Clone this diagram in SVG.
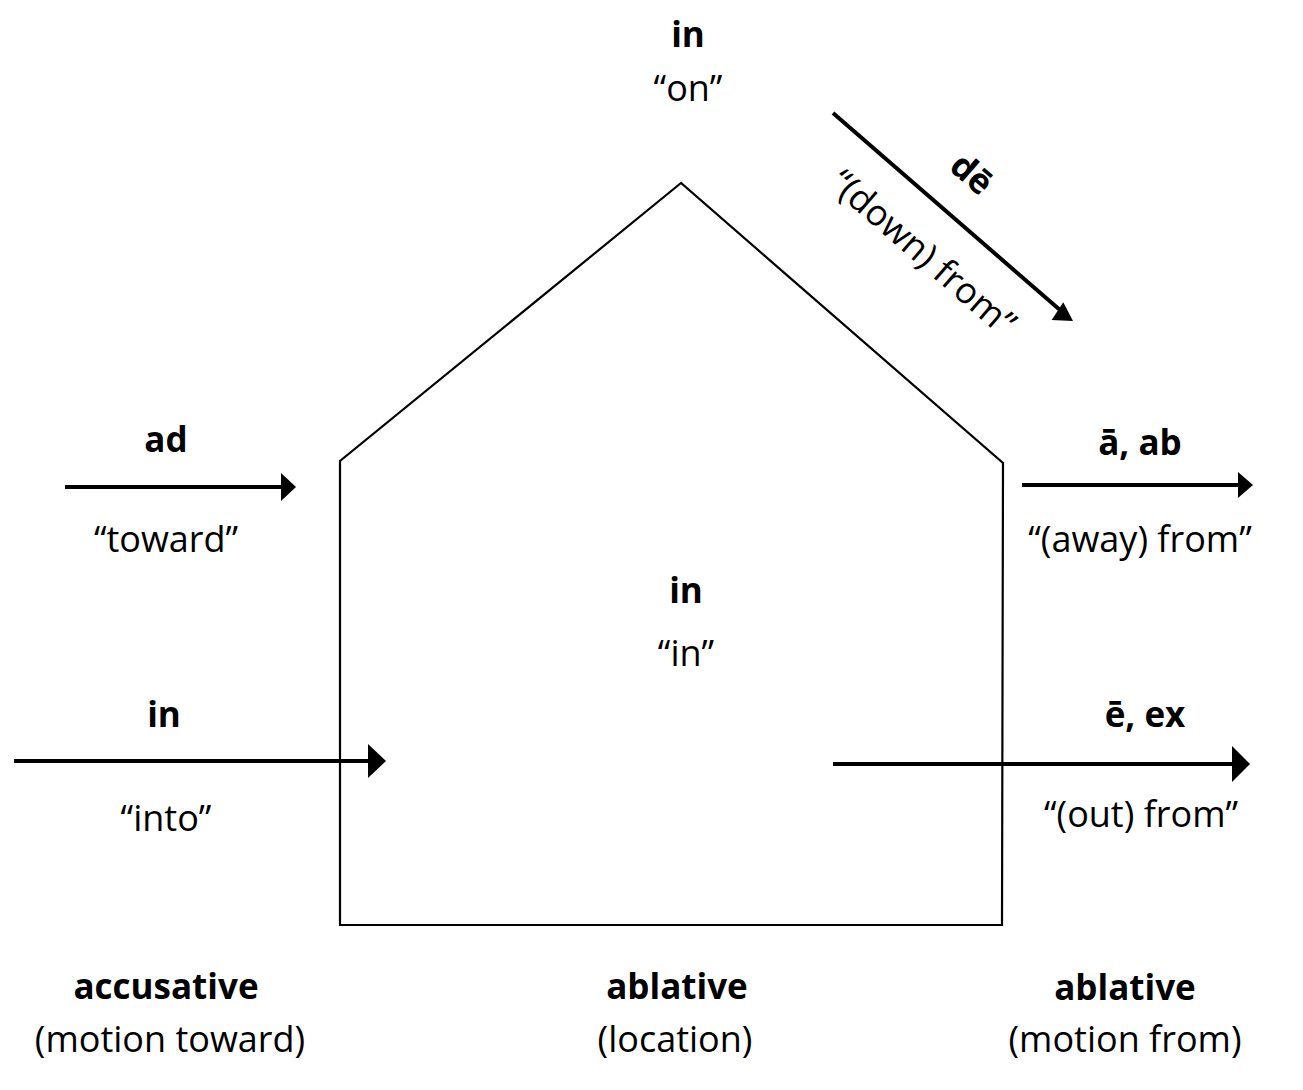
<svg xmlns="http://www.w3.org/2000/svg" width="1303" height="1090" viewBox="0 0 1303 1090">
<style>
text{font-family:"Open Sans","Noto Sans","DejaVu Sans",sans-serif;font-size:36px;fill:#000;text-anchor:middle}
.b{font-weight:700;font-size:35px}
.ln{stroke:#000;stroke-width:4;fill:none}
.hd{fill:#000;stroke:none}
</style>
<rect width="1303" height="1090" fill="#fff"/>
<g id="house">
<polygon points="681,183 340,461 340,925 1002,925 1003,463" fill="none" stroke="#000" stroke-width="2.2"/>
<text class="b" x="686" y="603">in</text>
<text x="686" y="666">“in”</text>
</g>
<g id="connectors">
<line class="ln" x1="65" y1="487" x2="283" y2="487"/>
<polygon class="hd" points="296,487 281,473 281,501"/>
<line class="ln" x1="14" y1="761" x2="370" y2="761"/>
<polygon class="hd" points="386,761 368,744 368,778"/>
<line class="ln" x1="1022" y1="485" x2="1240" y2="485"/>
<polygon class="hd" points="1253,485 1238,472 1238,498"/>
<line class="ln" x1="833" y1="764" x2="1235" y2="764"/>
<polygon class="hd" points="1250,764 1232,746 1232,782"/>
<line class="ln" x1="833" y1="113" x2="1060" y2="310" stroke-width="4.5"/>
<polygon class="hd" points="1073,321 1052,317 1066,301" transform="rotate(-8,1073,321)"/>
</g>
<g id="top">
<text class="b" x="688" y="47">in</text>
<text x="688" y="101">“on”</text>
</g>
<g id="de">
<text class="b" x="964" y="183" transform="rotate(41,964,183)">dē</text>
<text x="915" y="262" transform="rotate(41,915,262)">“(down) from”</text>
</g>
<g id="ad">
<text class="b" x="166" y="452">ad</text>
<text x="166" y="552">“toward”</text>
</g>
<g id="in-into">
<text class="b" x="164" y="727">in</text>
<text x="166" y="831">“into”</text>
</g>
<g id="a-ab">
<text class="b" x="1140" y="455">ā, ab</text>
<text x="1140" y="552">“(away) from”</text>
</g>
<g id="e-ex">
<text class="b" x="1145" y="727">ē, ex</text>
<text x="1141" y="827">“(out) from”</text>
</g>
<g id="accusative">
<text class="b" x="166" y="999">accusative</text>
<text x="170" y="1052">(motion toward)</text>
</g>
<g id="ablative-loc">
<text class="b" x="677" y="999">ablative</text>
<text x="675" y="1052">(location)</text>
</g>
<g id="ablative-from">
<text class="b" x="1125" y="1000">ablative</text>
<text x="1125" y="1052">(motion from)</text>
</g>
</svg>
